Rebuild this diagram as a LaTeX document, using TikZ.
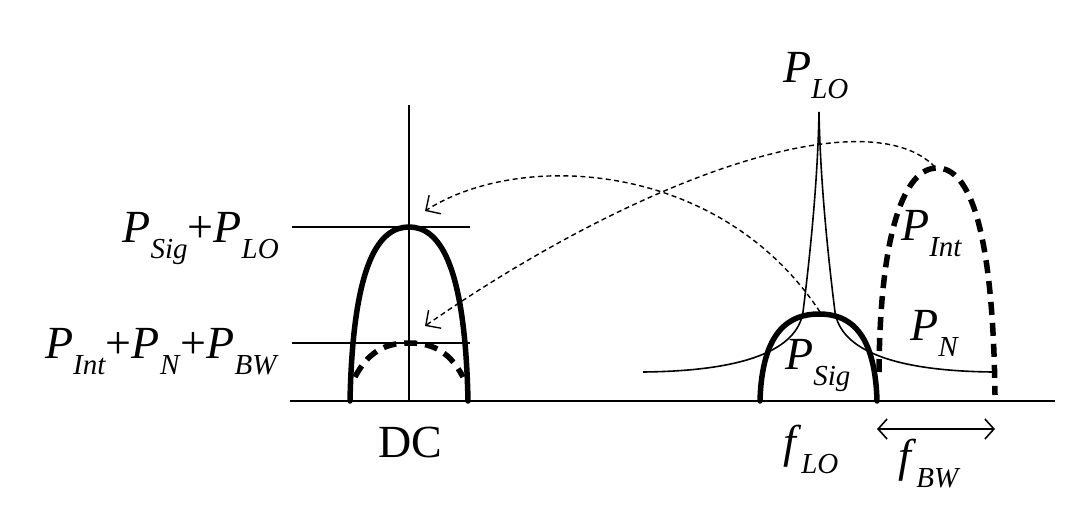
\documentclass[tikz,border=0pt]{standalone}
\usepackage{fontspec}
\setmainfont{Liberation Serif}
\usetikzlibrary{arrows.meta}
\newcommand\subfont{\fontsize{29}{29}\selectfont}
\newcommand\Pw[2]{\textit{#1}\raisebox{-0.35em}{\subfont\textit{#2}}}

\begin{document}
\begin{tikzpicture}[x=1pt,y=-1pt,>={Straight Barb[length=11pt,width=22pt]},
  every node/.style={inner sep=0pt,font=\fontsize{46}{50}\selectfont},
  thinline/.style={line width=1.6pt},
  thickline/.style={line width=5.5pt,line cap=round},
  thickdash/.style={line width=5.5pt,dash pattern=on 13pt off 8pt},
  pointer/.style={->,line width=1.4pt,dash pattern=on 5pt off 3.5pt}]
\useasboundingbox (0,0) rectangle (1071,519);
% axes and levels
\draw[line width=2.4pt] (290,401) -- (1055,401);
\draw[thinline] (409,105) -- (409,401);
\draw[line width=2.4pt] (292,227) -- (470,227);
\draw[line width=2.4pt] (292,343) -- (470,343);
% baseband
\draw[thickline] (350,401) .. controls (353,260) and (380,227) .. (409,227)
  .. controls (438,227) and (465,260) .. (468,401);
\draw[thickdash] (355,377) .. controls (370,348) and (390,343) .. (409,343)
  .. controls (428,343) and (448,348) .. (463,377);
% LO line and noise floor
\draw[thinline] (643,372) .. controls (745,371) and (797,350) .. (803,312)
  .. controls (812,240) and (818,170) .. (819,112)
  .. controls (820,170) and (826,240) .. (835,312)
  .. controls (841,350) and (893,371) .. (993,372);
\draw[thickline] (760,401) .. controls (762,330) and (790,314) .. (819,314)
  .. controls (848,314) and (875,330) .. (877,401);
\draw[thickdash] (879,372) .. controls (880,230) and (905,168) .. (937,168)
  .. controls (970,168) and (993,230) .. (995,395);
% mapping to DC
\coordinate (sigtop) at (820,312);
\coordinate (inttop) at (935,167);
\coordinate (dcsum) at (425,211);
\coordinate (dcnoise) at (425,326);
\draw[pointer] (sigtop) .. controls (720,160) and (520,150) .. (dcsum);
\draw[pointer] (inttop) .. controls (870,100) and (650,170) .. (dcnoise);
% labels
\node[anchor=base east] (lsum) at (279,242) {\Pw{P}{Sig}+\Pw{P}{LO}};
\node[anchor=base east] (lnoise) at (279,358) {\Pw{P}{Int}+\Pw{P}{N}+\Pw{P}{BW}};
\node[anchor=base] (ldc) at (410,457) {DC};
\node[anchor=base west] (llo) at (783,82) {\Pw{P}{LO}};
\node[anchor=base west] (lsig) at (785,369) {\Pw{P}{Sig}};
\node[anchor=base west] (lint) at (901,240) {\Pw{P}{Int}};
\node[anchor=base west] (ln) at (910,340) {\Pw{P}{N}};
\node[anchor=base west] (flo) at (783,457) {\Pw{f}{LO}};
\node[anchor=base west] (fbw) at (898,471) {\Pw{f}{BW}};
\coordinate (bwl) at (877,429);
\coordinate (bwr) at (995,429);
\draw[<->,thinline,>={Straight Barb[length=9pt,width=20pt]}] (bwl) -- (bwr);
\end{tikzpicture}
\end{document}
